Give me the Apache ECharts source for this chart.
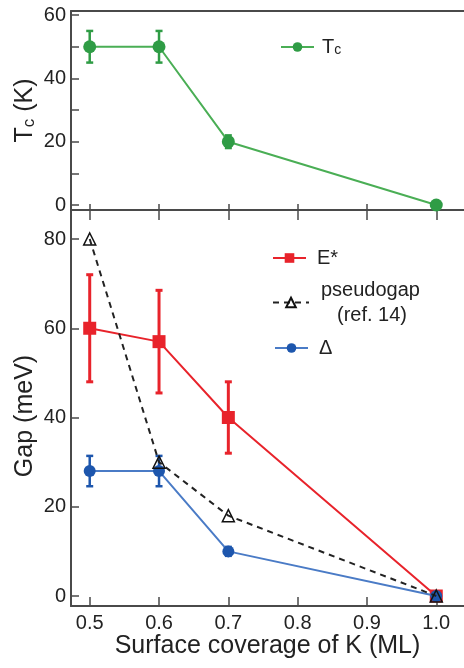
<!DOCTYPE html>
<html>
<head>
<meta charset="utf-8">
<script src="https://cdn.jsdelivr.net/npm/echarts@6/dist/echarts.min.js"></script>
<style>
  html, body { margin: 0; padding: 0; background: #fff; }
  #chart { width: 464px; height: 668px; }
</style>
</head>
<body>
<div id="chart"></div>
<script>
  // values
  var coverage = [0.5, 0.6, 0.7, 1.0]
  var tc = [50, 50, 20, 0]
  var tcErr = [5, 5, 2, 0]
  var eStar = [60, 57, 40, 0]
  var eStarErr = [12, 11.5, 8, 0]
  var pseudogap = [80, 30, 18, 0]
  var delta = [28, 28, 10, 0]
  var deltaErr = [3.4, 3.4, 1, 0]
  var xTicks = [0.5, 0.6, 0.7, 0.8, 0.9, 1.0]
  var tcTicks = [0, 10, 20, 30, 40, 50, 60]
  var tcLabels = [0, 20, 40, 60]
  var gapTicks = [0, 20, 40, 60, 80]

  var font = 'Liberation Sans, Arial, Helvetica, sans-serif'
  var axisColor = '#4a4a4a'
  var textColor = '#222'
  var green = '#2f9c45', greenLine = '#4aae55'
  var red = '#e8232b'
  var blue = '#1d56ad', blueLine = '#4a7bc6'

  function pairs(ys) {
    return coverage.map(function (c, i) { return [c, ys[i]] })
  }
  function triples(ys, es) {
    return coverage.map(function (c, i) { return [c, ys[i], es[i]] })
  }

  // vertical error bar with caps
  function errorBar(color, width) {
    return function (params, api) {
      var x = api.value(0), y = api.value(1), e = api.value(2)
      if (!e) return null
      var top = api.coord([x, y + e])
      var bot = api.coord([x, y - e])
      var cap = 3.5
      var style = { stroke: color, lineWidth: width }
      return {
        type: 'group',
        children: [
          { type: 'line', shape: { x1: top[0], y1: top[1], x2: bot[0], y2: bot[1] }, style: style },
          { type: 'line', shape: { x1: top[0] - cap, y1: top[1], x2: top[0] + cap, y2: top[1] }, style: style },
          { type: 'line', shape: { x1: bot[0] - cap, y1: bot[1], x2: bot[0] + cap, y2: bot[1] }, style: style }
        ]
      }
    }
  }

  var chart = echarts.init(document.getElementById('chart'), null, { renderer: 'canvas' })

  var xBase = {
    type: 'value',
    min: 0.473,
    max: 1.04,
    splitLine: { show: false },
    axisLine: { show: true, onZero: false, lineStyle: { color: axisColor, width: 2 } }
  }

  chart.setOption({
    animation: false,
    textStyle: { fontFamily: font },
    grid: [
      { left: 71, top: 11, width: 405, height: 199 },
      { left: 71, top: 210, width: 405, height: 396 }
    ],
    xAxis: [
      // top panel, bottom edge
      Object.assign({}, xBase, {
        gridIndex: 0, position: 'bottom',
        axisTick: { show: true, inside: true, length: 6, customValues: xTicks, lineStyle: { color: axisColor, width: 1.5 } },
        axisLabel: { show: false }
      }),
      // top panel, top frame
      Object.assign({}, xBase, {
        gridIndex: 0, position: 'top',
        axisTick: { show: false }, axisLabel: { show: false }
      }),
      // bottom panel, bottom edge
      Object.assign({}, xBase, {
        gridIndex: 1, position: 'bottom',
        axisTick: { show: true, inside: true, length: 9, customValues: xTicks, lineStyle: { color: axisColor, width: 1.5 } },
        axisLabel: {
          customValues: xTicks, margin: 7, fontSize: 20, color: textColor, fontFamily: font,
          formatter: function (v) { return v.toFixed(1) }
        },
        name: 'Surface coverage of K (ML)',
        nameLocation: 'middle',
        nameGap: 28,
        nameMoveOverlap: false,
        nameTextStyle: { fontSize: 25, color: textColor, fontFamily: font }
      }),
      // bottom panel, top edge (ticks hang down)
      Object.assign({}, xBase, {
        gridIndex: 1, position: 'top',
        axisTick: { show: true, inside: true, length: 10, customValues: xTicks, lineStyle: { color: axisColor, width: 1.5 } },
        axisLabel: { show: false }
      })
    ],
    yAxis: [
      {
        gridIndex: 0, type: 'value', min: -1.58, max: 61.3,
        splitLine: { show: false },
        axisLine: { show: true, onZero: false, lineStyle: { color: axisColor, width: 2 } },
        axisTick: { show: true, inside: true, length: 8, customValues: tcTicks, lineStyle: { color: axisColor, width: 1.5 } },
        axisLabel: { customValues: tcLabels, margin: 5, fontSize: 20, color: textColor, fontFamily: font },
        name: '{t|T}{s|c}{t| (K)}',
        nameLocation: 'middle',
        nameGap: 33,
        nameMoveOverlap: false,
        nameRotate: 90,
        nameTextStyle: {
          color: textColor,
          rich: {
            t: { fontSize: 25, fontFamily: font, color: textColor, verticalAlign: 'bottom' },
            s: { fontSize: 17, fontFamily: font, color: textColor, verticalAlign: 'bottom' }
          }
        }
      },
      {
        gridIndex: 1, type: 'value', min: -2.24, max: 86.5,
        splitLine: { show: false },
        axisLine: { show: true, onZero: false, lineStyle: { color: axisColor, width: 2 } },
        axisTick: { show: true, inside: true, length: 8, customValues: gapTicks, lineStyle: { color: axisColor, width: 1.5 } },
        axisLabel: { customValues: gapTicks, margin: 5, fontSize: 20, color: textColor, fontFamily: font },
        name: 'Gap (meV)',
        nameLocation: 'middle',
        nameGap: 33,
        nameMoveOverlap: false,
        nameRotate: 90,
        nameTextStyle: { fontSize: 25, color: textColor, fontFamily: font, padding: [0, 16, 0, 0] }
      }
    ],
    legend: [
      {
        data: ['Tc'], left: 280, top: 37, padding: 0,
        itemWidth: 33, itemHeight: 12,
        formatter: function () { return '{t|T}{s|c}' },
        textStyle: {
          padding: [0, 0, 0, 3],
          rich: {
            t: { fontSize: 20, fontFamily: font, color: textColor, verticalAlign: 'bottom' },
            s: { fontSize: 14, fontFamily: font, color: textColor, verticalAlign: 'bottom' }
          }
        }
      },
      {
        data: ['E*'], left: 272, top: 248, padding: 0,
        itemWidth: 33, itemHeight: 12,
        textStyle: { fontSize: 20, fontFamily: font, color: textColor, padding: [0, 0, 0, 6] }
      },
      {
        data: ['pseudogap'], left: 272, top: 280, padding: 0,
        itemWidth: 36, itemHeight: 12,
        formatter: function () { return '{a|pseudogap}\n{b|(ref. 14)}' },
        textStyle: {
          padding: [0, 0, 0, 7],
          rich: {
            a: { fontSize: 20, lineHeight: 25, fontFamily: font, color: textColor },
            b: { fontSize: 20, lineHeight: 25, fontFamily: font, color: textColor, padding: [0, 0, 0, 16] }
          }
        }
      },
      {
        data: ['Δ'], left: 274, top: 338, padding: 0,
        itemWidth: 33, itemHeight: 12,
        textStyle: { fontSize: 20, fontFamily: font, color: textColor, padding: [0, 0, 0, 6] }
      }
    ],
    series: [
      {
        name: 'Tc', type: 'line', xAxisIndex: 0, yAxisIndex: 0,
        data: pairs(tc),
        symbol: 'circle', symbolSize: 13,
        itemStyle: { color: green },
        lineStyle: { color: greenLine, width: 2 },
        z: 3
      },
      {
        type: 'custom', xAxisIndex: 0, yAxisIndex: 0,
        data: triples(tc, tcErr),
        renderItem: errorBar(green, 2.5),
        z: 2
      },
      {
        name: 'E*', type: 'line', xAxisIndex: 2, yAxisIndex: 1,
        data: pairs(eStar),
        symbol: 'rect', symbolSize: 13,
        itemStyle: { color: red },
        lineStyle: { color: red, width: 2 },
        z: 3
      },
      {
        type: 'custom', xAxisIndex: 2, yAxisIndex: 1,
        data: triples(eStar, eStarErr),
        renderItem: errorBar(red, 3),
        z: 2
      },
      {
        name: 'Δ', type: 'line', xAxisIndex: 2, yAxisIndex: 1,
        data: pairs(delta),
        symbol: 'circle', symbolSize: 12,
        itemStyle: { color: blue },
        lineStyle: { color: blueLine, width: 2 },
        z: 4
      },
      {
        type: 'custom', xAxisIndex: 2, yAxisIndex: 1,
        data: triples(delta, deltaErr),
        renderItem: errorBar(blue, 2.5),
        z: 4
      },
      {
        name: 'pseudogap', type: 'line', xAxisIndex: 2, yAxisIndex: 1,
        data: pairs(pseudogap),
        symbol: 'triangle', symbolSize: 12,
        itemStyle: { color: 'rgba(255,255,255,0)', borderColor: '#111', borderWidth: 1.5 },
        lineStyle: { color: '#222', width: 2, type: [6, 5] },
        z: 5
      }
    ]
  })
</script>
</body>
</html>
